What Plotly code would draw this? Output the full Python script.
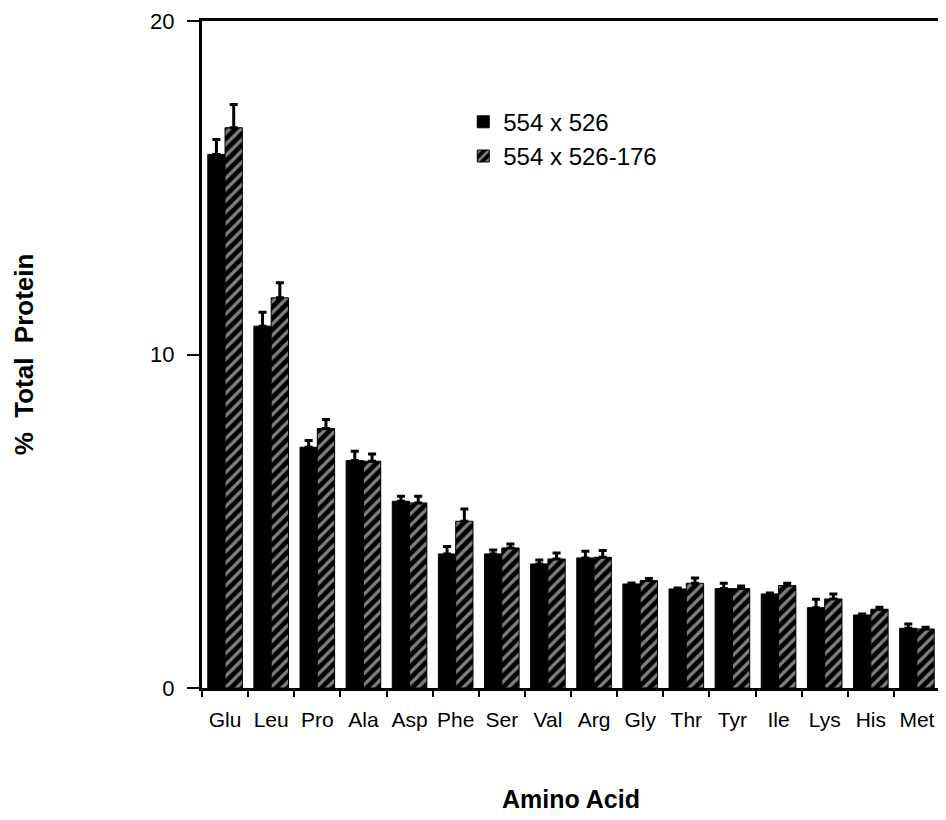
import plotly.graph_objects as go

amino_acids = ["Glu", "Leu", "Pro", "Ala", "Asp", "Phe", "Ser", "Val",
               "Arg", "Gly", "Thr", "Tyr", "Ile", "Lys", "His", "Met"]

parent_vals = [16.0, 10.85, 7.22, 6.82, 5.6, 4.02, 4.02, 3.72,
               3.9, 3.12, 2.97, 2.98, 2.82, 2.41, 2.19, 1.79]
parent_err = [0.45, 0.42, 0.2, 0.28, 0.15, 0.22, 0.12, 0.12,
              0.2, 0.03, 0.03, 0.16, 0.03, 0.25, 0.03, 0.13]

mutant_vals = [16.8, 11.7, 7.78, 6.8, 5.55, 5.0, 4.2, 3.87,
               3.92, 3.22, 3.14, 2.98, 3.07, 2.67, 2.36, 1.77]
mutant_err = [0.7, 0.45, 0.27, 0.22, 0.2, 0.37, 0.12, 0.18,
              0.2, 0.06, 0.16, 0.08, 0.07, 0.15, 0.06, 0.05]

series_names = ["554 x 526", "554 x 526-176"]
y_ticks = [0, 10, 20]

FONT = "Liberation Sans, Arial, Helvetica, sans-serif"

fig = go.Figure()
fig.add_trace(go.Bar(
    name=series_names[0], x=amino_acids, y=parent_vals,
    marker=dict(color="black", line=dict(color="black", width=1)),
    error_y=dict(type="data", symmetric=False, array=parent_err,
                 arrayminus=[0] * len(parent_err),
                 color="black", thickness=3, width=4),
))
fig.add_trace(go.Bar(
    name=series_names[1], x=amino_acids, y=mutant_vals,
    marker=dict(color="black", line=dict(color="black", width=1),
                pattern=dict(shape="/", bgcolor="black", fgcolor="white",
                             size=8, solidity=0.4)),
    error_y=dict(type="data", symmetric=False, array=mutant_err,
                 arrayminus=[0] * len(mutant_err),
                 color="black", thickness=3, width=4),
))

# page body adds an 8px margin, so the figure is 8px smaller than the window
fig.update_layout(
    width=938, height=812,
    margin=dict(l=194, r=6, t=13, b=132),
    paper_bgcolor="white", plot_bgcolor="white",
    barmode="group", bargap=0.25, bargroupgap=0,
    font=dict(family=FONT, color="black"),
    showlegend=True,
    legend=dict(x=0.354, y=0.882, xanchor="left", yanchor="top",
                font=dict(size=24, family=FONT), bgcolor="rgba(0,0,0,0)",
                tracegroupgap=0),
    xaxis=dict(
        showline=True, linecolor="black", linewidth=3, mirror=True,
        ticks="outside", ticklen=6, tickwidth=2, tickcolor="black",
        tickson="boundaries", showgrid=False, tickangle=0, automargin=False,
        tickfont=dict(size=21, family=FONT), ticklabelstandoff=11,
        title=dict(text="<b>Amino Acid</b>", font=dict(size=25, family=FONT),
                   standoff=61),
    ),
    yaxis=dict(
        range=[0, 20], tickvals=y_ticks, showline=True, linecolor="black",
        linewidth=3, mirror=True, ticks="outside", ticklen=12, tickwidth=2,
        tickcolor="black", showgrid=False, zeroline=False, automargin=False,
        tickfont=dict(size=22, family=FONT), ticklabelstandoff=8,
        title=dict(text="<b>%\u00a0\u00a0Total\u00a0\u00a0Protein</b>",
                   font=dict(size=26, family=FONT), standoff=110),
    ),
)

fig.write_html("out.html")
